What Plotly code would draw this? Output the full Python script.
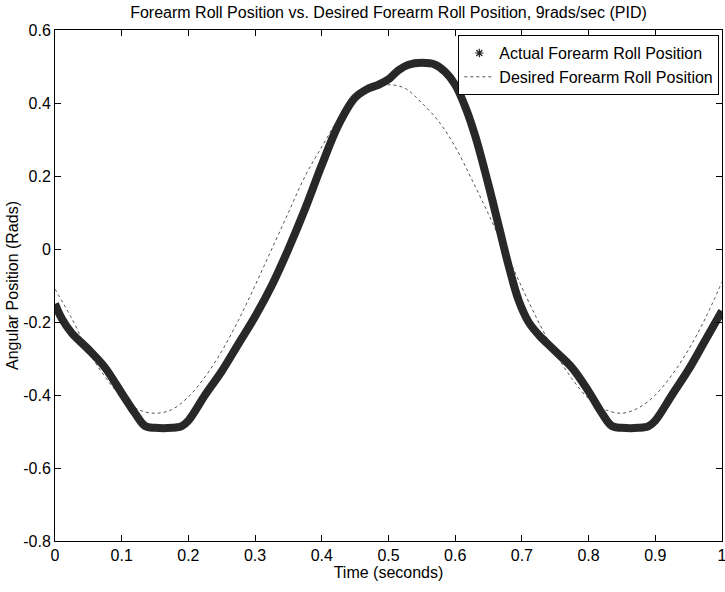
import plotly.graph_objects as go

# Desired forearm roll position (thin dotted line)
t_desired = [0.0, 0.025, 0.05, 0.075, 0.1, 0.125, 0.15, 0.175, 0.2, 0.225, 0.25, 0.275,
             0.3, 0.325, 0.35, 0.375, 0.4, 0.425, 0.45, 0.475, 0.5, 0.525, 0.55, 0.575,
             0.6, 0.625, 0.65, 0.675, 0.7, 0.725, 0.75, 0.775, 0.8, 0.825, 0.85, 0.875,
             0.9, 0.925, 0.95, 0.975, 1.0]
desired = [-0.11, -0.19, -0.28, -0.35, -0.405, -0.44, -0.45, -0.44, -0.405, -0.35, -0.28, -0.195,
           -0.10, 0.0, 0.10, 0.20, 0.28, 0.355, 0.405, 0.44, 0.45, 0.44, 0.40, 0.35,
           0.28, 0.19, 0.095, -0.005, -0.105, -0.20, -0.285, -0.355, -0.41, -0.44, -0.45, -0.435,
           -0.40, -0.345, -0.275, -0.19, -0.09]

# Actual forearm roll position (thick asterisk trace)
t_actual = [0.0, 0.01, 0.025, 0.05, 0.075, 0.1, 0.12, 0.135, 0.15, 0.175, 0.19, 0.2,
            0.225, 0.25, 0.275, 0.3, 0.325, 0.35, 0.375, 0.4, 0.425, 0.45, 0.47, 0.485,
            0.5, 0.515, 0.53, 0.55, 0.57, 0.585, 0.6, 0.615, 0.63, 0.65, 0.665, 0.68,
            0.695, 0.71, 0.725, 0.75, 0.775, 0.8, 0.82, 0.835, 0.85, 0.875, 0.89, 0.9,
            0.925, 0.95, 0.975, 1.0]
actual = [-0.15, -0.19, -0.23, -0.275, -0.325, -0.395, -0.45, -0.485, -0.49, -0.49, -0.485, -0.47,
          -0.40, -0.335, -0.26, -0.185, -0.10, 0.0, 0.11, 0.23, 0.34, 0.415, 0.44, 0.45,
          0.465, 0.49, 0.505, 0.51, 0.505, 0.485, 0.45, 0.39, 0.31, 0.175, 0.065, -0.045,
          -0.14, -0.20, -0.235, -0.28, -0.325, -0.39, -0.45, -0.485, -0.49, -0.49, -0.485, -0.47,
          -0.40, -0.33, -0.25, -0.17]

x_tickvals = [0, 0.1, 0.2, 0.3, 0.4, 0.5, 0.6, 0.7, 0.8, 0.9, 1.0]
x_ticktext = ["0", "0.1", "0.2", "0.3", "0.4", "0.5", "0.6", "0.7", "0.8", "0.9", "1"]
y_tickvals = [-0.8, -0.6, -0.4, -0.2, 0, 0.2, 0.4, 0.6]
y_ticktext = ["-0.8", "-0.6", "-0.4", "-0.2", "0", "0.2", "0.4", "0.6"]

FONT = "Liberation Sans, Arial, sans-serif"
FS = 16

fig = go.Figure()

fig.add_trace(go.Scatter(
    x=t_desired, y=desired, mode="lines",
    line=dict(color="#555555", width=1, dash="dot", shape="spline"),
    name="Desired Forearm Roll Position", showlegend=False,
))
fig.add_trace(go.Scatter(
    x=t_actual, y=actual, mode="lines",
    line=dict(color="#282828", width=8, shape="spline"),
    name="Actual Forearm Roll Position", showlegend=False,
))
# legend entries
fig.add_trace(go.Scatter(
    x=[None], y=[None], mode="markers",
    marker=dict(symbol="asterisk-open", size=7, color="#222222", line=dict(width=1.2, color="#222222")),
    name="Actual Forearm Roll Position",
))
fig.add_trace(go.Scatter(
    x=[None], y=[None], mode="lines",
    line=dict(color="#555555", width=1, dash="dot"),
    name="Desired Forearm Roll Position",
))

axis_common = dict(
    showline=True, linecolor="black", linewidth=1, mirror="ticks",
    ticks="inside", ticklen=6, tickcolor="black", showgrid=False, zeroline=False,
    tickfont=dict(family=FONT, size=FS, color="black"), automargin=False,
    ticklabeloverflow="allow",
)

fig.update_layout(
    width=725, height=592,
    margin=dict(l=55, r=3, t=30, b=51),
    paper_bgcolor="white", plot_bgcolor="white",
    font=dict(family=FONT, size=FS, color="black"),
    title=dict(text="Forearm Roll Position vs. Desired Forearm Roll Position, 9rads/sec (PID)",
               xref="paper", x=0.5, xanchor="center", y=0.979, yanchor="middle",
               font=dict(family=FONT, size=FS, color="black")),
    xaxis=dict(range=[0, 1], tickvals=x_tickvals, ticktext=x_ticktext,
               title=dict(text="Time (seconds)", standoff=3, font=dict(family=FONT, size=FS)),
               **axis_common),
    yaxis=dict(range=[-0.8, 0.6], tickvals=y_tickvals, ticktext=y_ticktext,
               title=dict(text="Angular Position (Rads)", standoff=0, font=dict(family=FONT, size=FS)),
               **axis_common),
    legend=dict(x=0.996, xanchor="right", y=0.99, yanchor="top",
                bordercolor="black", borderwidth=1, bgcolor="white",
                font=dict(family=FONT, size=FS, color="black"),
                tracegroupgap=0, itemwidth=30),
)

fig.write_html("out.html", config={"displayModeBar": False},
               post_script="document.body.style.margin='0px';")
